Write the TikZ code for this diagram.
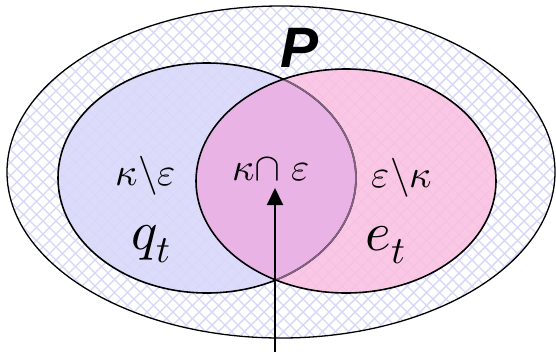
\documentclass[tikz,border=0pt]{standalone}
\usepackage{fontspec}
\usepackage{unicode-math}
\setmathfont{Latin Modern Math}
\newfontfamily\pfont{Liberation Sans}
\usetikzlibrary{arrows.meta}
\definecolor{lattice}{RGB}{214,214,248}
\definecolor{qblue}{RGB}{216,216,250}
\definecolor{epink}{RGB}{250,192,226}
\definecolor{inter}{RGB}{234,178,230}
\tikzset{
  border/.style={draw=black, line width=1.6pt},
  lbl/.style={inner sep=0pt, font=\fontsize{39}{42}\selectfont},
  big/.style={inner sep=0pt, font=\fontsize{55}{60}\selectfont},
}
\begin{document}
\begin{tikzpicture}[x=1pt,y=-1pt]
\useasboundingbox (0,0) rectangle (556,351);
\fill[white] (0,0) rectangle (556,351);
% outer region with lattice
\begin{scope}
  \clip (281,172) ellipse [x radius=274, y radius=166];
  \foreach \i in {-360,-347,...,900} {
    \draw[lattice, line width=1.4pt] (\i,0) -- ++(360,360);
    \draw[lattice, line width=1.4pt] (\i,0) -- ++(-360,360);
  }
\end{scope}
\draw[border, line width=1.3pt] (281,172) ellipse [x radius=274, y radius=166];
% left ellipse
\fill[qblue, opacity=0.88] (207,178) ellipse [x radius=149, y radius=115];
% right ellipse
\fill[epink, opacity=0.88] (346,181) ellipse [x radius=150, y radius=112];
% overlap
\begin{scope}
  \clip (207,178) ellipse [x radius=149, y radius=115];
  \fill[inter, opacity=0.92] (346,181) ellipse [x radius=150, y radius=112];
\end{scope}
% borders
\draw[border] (207,178) ellipse [x radius=149, y radius=115];
\begin{scope}
  \clip (346,181) ellipse [x radius=150, y radius=112];
  \draw[line width=1.7pt, draw=inter!55!black] (207,178) ellipse [x radius=149, y radius=115];
\end{scope}
\draw[border] (346,181) ellipse [x radius=150, y radius=112];
% labels
\node[inner sep=0pt, font=\pfont\bfseries\itshape\fontsize{57}{60}\selectfont] (P) at (300,48) {P};
\node[lbl] (ke) at (146,176) {$\kappa\backslash\varepsilon$};
\node[lbl] (kie) at (271,169) {$\kappa{\cap}\;\varepsilon$};
\node[lbl] (ek) at (402,178) {$\varepsilon\backslash\kappa$};
\node[big] (q) at (151,244) {$q_t$};
\node[big] (e) at (386,245) {$e_t$};
\coordinate (tip) at (275,188);
\coordinate (tail) at (275,352);
\draw[line width=2pt, -{Triangle[length=17pt,width=16pt]}] (tail) -- (tip);
\end{tikzpicture}
\end{document}
